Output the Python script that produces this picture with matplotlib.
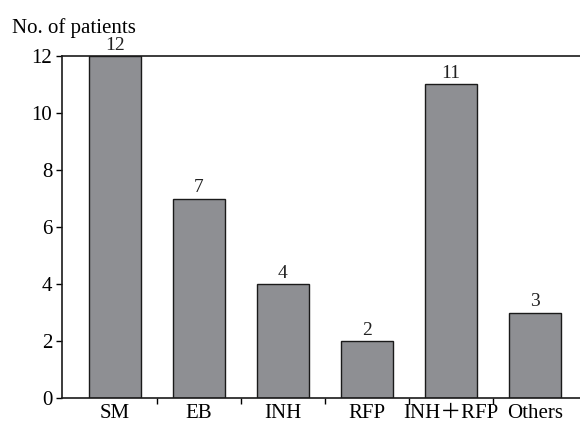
import matplotlib
matplotlib.use('Agg')
import matplotlib.pyplot as plt
import numpy as np

# drug categories and number of patients
drugs = ['SM', 'EB', 'INH', 'RFP', 'INH\uff0bRFP', 'Others']
patients = [12, 7, 4, 2, 11, 3]
y_ticks = [0, 2, 4, 6, 8, 10, 12]

plt.rcParams['font.family'] = ['Liberation Serif', 'Noto Sans CJK SC']
plt.rcParams['font.size'] = 15

fig = plt.figure(figsize=(5.8, 4.24), dpi=100)
ax = fig.add_axes([0.107, 0.061, 0.893, 0.807])

x = np.arange(len(drugs))
bars = ax.bar(x, patients, width=0.62, color='#8e8f93', edgecolor='#1a1a1a', linewidth=1.0, zorder=2)
for xi, v in zip(x, patients):
    ax.text(xi, v + 0.08, str(v), ha='center', va='bottom', fontsize=14, color='#222222', clip_on=False)

ax.set_xlim(-0.63, 5.54)
ax.set_ylim(0, 12)
ax.set_yticks(y_ticks)
ax.set_xticks(x[:-1] + 0.5, minor=False)
ax.set_xticklabels([])
ax.set_xticks(x, minor=True)
ax.set_xticklabels(drugs, minor=True)
ax.tick_params(axis='x', which='major', direction='out', length=4, width=1)
ax.tick_params(axis='x', which='minor', length=0, pad=4)
ax.tick_params(axis='y', direction='out', length=4, width=1, pad=3)

ax.spines['right'].set_visible(False)
for s in ['left', 'bottom', 'top']:
    ax.spines[s].set_linewidth(1.2)
    ax.spines[s].set_color('#1a1a1a')

fig.text(0.02, 0.935, 'No. of patients', fontsize=15, ha='left', va='center')

fig.savefig('out.png', dpi=100)
